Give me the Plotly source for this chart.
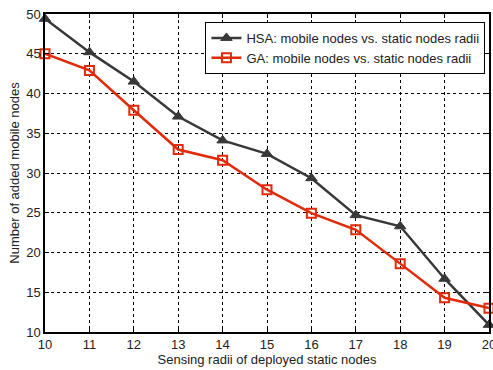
import plotly.graph_objects as go

radii = [10, 11, 12, 13, 14, 15, 16, 17, 18, 19, 20]
hsa = [49.4, 45.2, 41.5, 37.1, 34.1, 32.4, 29.35, 24.7, 23.3, 16.7, 10.9]
ga = [45.0, 42.9, 37.9, 32.95, 31.6, 27.9, 24.95, 22.85, 18.6, 14.3, 13.0]

x_ticks = list(range(10, 21))
y_ticks = [10, 15, 20, 25, 30, 35, 40, 45, 50]

FONT = "Liberation Sans, Arial"

fig = go.Figure()
fig.add_trace(go.Scatter(
    x=radii, y=hsa, mode="lines+markers",
    name="HSA: mobile nodes vs. static nodes radii",
    line=dict(color="#383838", width=2.5),
    marker=dict(symbol="triangle-up", size=10, color="#383838",
                line=dict(color="#383838", width=1)),
    cliponaxis=False,
))
fig.add_trace(go.Scatter(
    x=radii, y=ga, mode="lines+markers",
    name="GA: mobile nodes vs. static nodes radii",
    line=dict(color="#e02a08", width=2.5),
    marker=dict(symbol="square-open", size=9, color="#e02a08",
                line=dict(color="#e02a08", width=2)),
    cliponaxis=False,
))

axis_common = dict(
    showline=True, linecolor="black", linewidth=1.5, mirror="ticks",
    ticks="inside", ticklen=4, tickcolor="black",
    showgrid=True, gridcolor="black", griddash="dot", gridwidth=1,
    zeroline=False, ticklabeloverflow="allow",
    tickfont=dict(family=FONT, size=13, color="#222"),
)

fig.update_xaxes(range=[10, 20], tickvals=x_ticks,
                 title=dict(text="Sensing radii of deployed static nodes",
                            font=dict(family=FONT, size=13, color="#222"),
                            standoff=1),
                 **axis_common)
fig.update_yaxes(range=[10, 50], tickvals=y_ticks,
                 title=dict(text="Number of added mobile nodes",
                            font=dict(family=FONT, size=13, color="#222"),
                            standoff=4),
                 **axis_common)

fig.update_layout(
    width=493, height=370,
    margin=dict(l=45, r=4, t=14, b=38, autoexpand=False),
    paper_bgcolor="white", plot_bgcolor="white",
    font=dict(family=FONT, size=13, color="#222"),
    legend=dict(x=0.992, y=0.975, xanchor="right", yanchor="top",
                bgcolor="white", bordercolor="black", borderwidth=1,
                font=dict(family=FONT, size=13, color="#222"),
                tracegroupgap=0, itemwidth=30),
    showlegend=True,
)

fig.write_html("out.html", config={"displayModeBar": False},
               post_script="document.body.style.margin='0';document.body.style.overflow='hidden';")
